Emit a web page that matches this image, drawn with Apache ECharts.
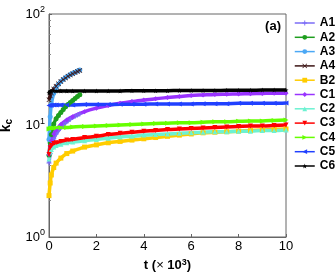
<!DOCTYPE html>
<html><head><meta charset="utf-8">
<script src="https://cdn.jsdelivr.net/npm/echarts@6/dist/echarts.min.js"></script>
<style>html,body{margin:0;padding:0;background:#fff}#c{width:336px;height:273px}</style>
</head><body><div id="c"></div>
<script>
// ---- data (t in units of 10^3) ----
var tShort = [0, 0.05, 0.1, 0.2, 0.3, 0.4, 0.5, 0.6, 0.7, 0.8, 0.9, 1.0, 1.1, 1.2, 1.3];
var tLong = [0, 0.05, 0.1, 0.2, 0.3, 0.5, 0.75, 1, 1.5, 2, 2.5, 3, 3.5, 4, 4.5, 5, 5.5, 6, 6.5, 7, 7.5, 8, 8.5, 9, 9.5, 10];

var A1 = [4.6, 5.6, 6.4, 7.6, 8.4, 9.0, 9.6, 10.1, 10.6, 11.0, 11.4, 11.8, 12.1, 12.4, 12.7];
var A2 = [5.4, 7.0, 8.3, 10.3, 11.5, 12.3, 13.1, 13.9, 14.7, 15.4, 16.1, 16.8, 17.5, 18.2, 18.9];
var A3 = [7.5, 12.0, 15.5, 19.5, 21.8, 23.4, 24.8, 25.9, 26.9, 27.8, 28.6, 29.4, 30.1, 30.8, 31.5];
var A4 = [17.0, 18.5, 19.6, 21.2, 22.5, 23.7, 24.8, 25.8, 26.7, 27.6, 28.4, 29.1, 29.8, 30.5, 31.1];
var B2 = [2.35, 3.05, 3.6, 4.2, 4.6, 5.1, 5.6, 5.9, 6.4, 6.7, 7.0, 7.2, 7.4, 7.6, 7.8, 8.0, 8.2, 8.4, 8.6, 8.7, 8.8, 8.9, 9.0, 9.1, 9.2, 9.3];
var C1 = [5.5, 6.5, 7.3, 8.4, 9.1, 10.2, 11.2, 12.0, 13.3, 14.3, 15.1, 15.8, 16.4, 16.9, 17.4, 17.8, 18.2, 18.6, 18.8, 19.0, 19.1, 19.2, 19.3, 19.4, 19.5, 19.5];
var C2 = [5.0, 5.8, 6.1, 6.4, 6.6, 6.8, 7.0, 7.1, 7.3, 7.5, 7.7, 7.9, 8.0, 8.2, 8.3, 8.4, 8.5, 8.6, 8.7, 8.8, 8.8, 8.9, 8.9, 9.0, 9.0, 9.1];
var C3 = [5.5, 6.3, 6.6, 6.9, 7.0, 7.2, 7.4, 7.5, 7.8, 8.0, 8.3, 8.5, 8.7, 8.9, 9.0, 9.2, 9.3, 9.4, 9.5, 9.6, 9.7, 9.8, 9.9, 9.9, 10.0, 10.1];
var C4 = [9.3, 9.4, 9.5, 9.5, 9.5, 9.6, 9.6, 9.7, 9.8, 9.9, 10.0, 10.1, 10.2, 10.3, 10.4, 10.5, 10.6, 10.6, 10.7, 10.8, 10.8, 10.9, 11.0, 11.0, 11.1, 11.2];
var C5 = [15.1, 15.2, 15.2, 15.3, 15.3, 15.3, 15.3, 15.3, 15.4, 15.4, 15.4, 15.5, 15.5, 15.5, 15.6, 15.6, 15.6, 15.6, 15.7, 15.7, 15.7, 15.8, 15.8, 15.8, 15.8, 15.9];
var C6 = [19.6, 20.2, 20.3, 20.4, 20.4, 20.4, 20.4, 20.4, 20.4, 20.4, 20.4, 20.4, 20.5, 20.5, 20.5, 20.5, 20.6, 20.6, 20.6, 20.6, 20.7, 20.7, 20.7, 20.8, 20.8, 20.8];

var xTicks = [0, 2, 4, 6, 8, 10];
var yTicks = [1, 10, 100];

var PLUS = 'path://M4,0H6V4H10V6H6V10H4V6H0V4H4Z';
var CROSS = 'path://M1,0L5,4L9,0L10,1L6,5L10,9L9,10L5,6L1,10L0,9L4,5L0,1Z';
var STAR = 'path://M5,0L6.2,3.6L10,3.6L7,5.9L8.1,9.5L5,7.3L1.9,9.5L3,5.9L0,3.6L3.8,3.6Z';

var defs = [
  {name:'A1', t:tShort, v:A1, color:'#7b6cf6', symbol:PLUS, rot:0},
  {name:'A2', t:tShort, v:A2, color:'#1e9e1e', symbol:'circle', rot:0},
  {name:'A3', t:tShort, v:A3, color:'#4ba8f5', symbol:'circle', rot:0},
  {name:'A4', t:tShort, v:A4, color:'#3b1414', symbol:CROSS, rot:0},
  {name:'B2', t:tLong, v:B2, color:'#ffcc00', symbol:'rect', rot:0},
  {name:'C1', t:tLong, v:C1, color:'#9933ff', symbol:'diamond', rot:0},
  {name:'C2', t:tLong, v:C2, color:'#6cf2d2', symbol:'triangle', rot:0},
  {name:'C3', t:tLong, v:C3, color:'#ff0000', symbol:'triangle', rot:180},
  {name:'C4', t:tLong, v:C4, color:'#66ff00', symbol:'triangle', rot:-90},
  {name:'C5', t:tLong, v:C5, color:'#2040ff', symbol:'triangle', rot:90},
  {name:'C6', t:tLong, v:C6, color:'#000000', symbol:STAR, rot:0}
];

var series = defs.map(function(d){
  return {
    name: d.name, type:'line',
    data: d.t.map(function(t,i){ return [t, d.v[i]]; }),
    symbol: d.symbol, symbolRotate: d.rot, symbolSize: 5, showAllSymbol:true,
    lineStyle:{width:3.5, color:d.color},
    itemStyle:{color:d.color},
    smooth: 0.3,
    animation:false
  };
});

var chart = echarts.init(document.getElementById('c'), null, {renderer:'canvas'});
var axisCol = '#666';
chart.setOption({
  animation:false,
  textStyle:{fontFamily:'Liberation Sans, Arial, sans-serif'},
  title:{text:'(a)', right: 55, top: 20, padding:0, textStyle:{fontSize:13, fontWeight:'bold', color:'#000'}},
  grid:{left:49, right:50, top:14, bottom:36, show:true, borderColor:axisCol, borderWidth:1, outerBoundsMode:'none', containLabel:false},
  legend:{
    orient:'vertical', left:294, top:17, padding:0, itemWidth:20, itemHeight:6, itemGap:2.3,
    lineStyle:{width:1.5},
    textStyle:{fontSize:12, fontWeight:'bold', color:'#000', lineHeight:12},
    data: defs.map(function(d){return d.name;})
  },
  xAxis:{
    type:'value', min:0, max:10, interval:2,
    name:'{a|t (}{x|×}{a| 10}{s|3}{a|)}', nameLocation:'middle', nameGap:18,
    nameTextStyle:{rich:{
      a:{fontSize:13, fontWeight:'bold', color:'#000'},
      x:{fontSize:13, color:'#000'},
      s:{fontSize:9, fontWeight:'bold', color:'#000', verticalAlign:'top', padding:[0,0,6,0]}
    }},
    axisLine:{lineStyle:{color:axisCol}},
    axisTick:{inside:true, length:3, lineStyle:{color:axisCol}},
    axisLabel:{fontSize:13, color:'#000', margin:3, formatter:function(v){ return xTicks.indexOf(v)>=0 ? String(v) : ''; }},
    splitLine:{show:false}
  },
  yAxis:{
    type:'log', min:1, max:100, logBase:10,
    name:'{k|k}{c|c}', nameLocation:'middle', nameGap:30, nameRotate:90,
    nameTextStyle:{rich:{
      k:{fontSize:14, fontWeight:'bold', color:'#000'},
      c:{fontSize:10, fontWeight:'bold', color:'#000', verticalAlign:'bottom', padding:[6,0,0,0]}
    }},
    axisLine:{lineStyle:{color:axisCol}},
    axisTick:{inside:true, length:3, lineStyle:{color:axisCol}},
    minorTick:{show:true, splitNumber:8, length:2, lineStyle:{color:'#888'}},
    axisLabel:{margin:4, formatter:function(v){
      if (yTicks.indexOf(v) < 0) return '';
      return '{b|10}{s|' + Math.round(Math.log10(v)) + '}';
    }, rich:{
      b:{fontSize:13, color:'#000'},
      s:{fontSize:9, color:'#000', verticalAlign:'top', padding:[0,0,8,0]}
    }},
    splitLine:{show:false}
  },
  series: series
});
</script></body></html>
